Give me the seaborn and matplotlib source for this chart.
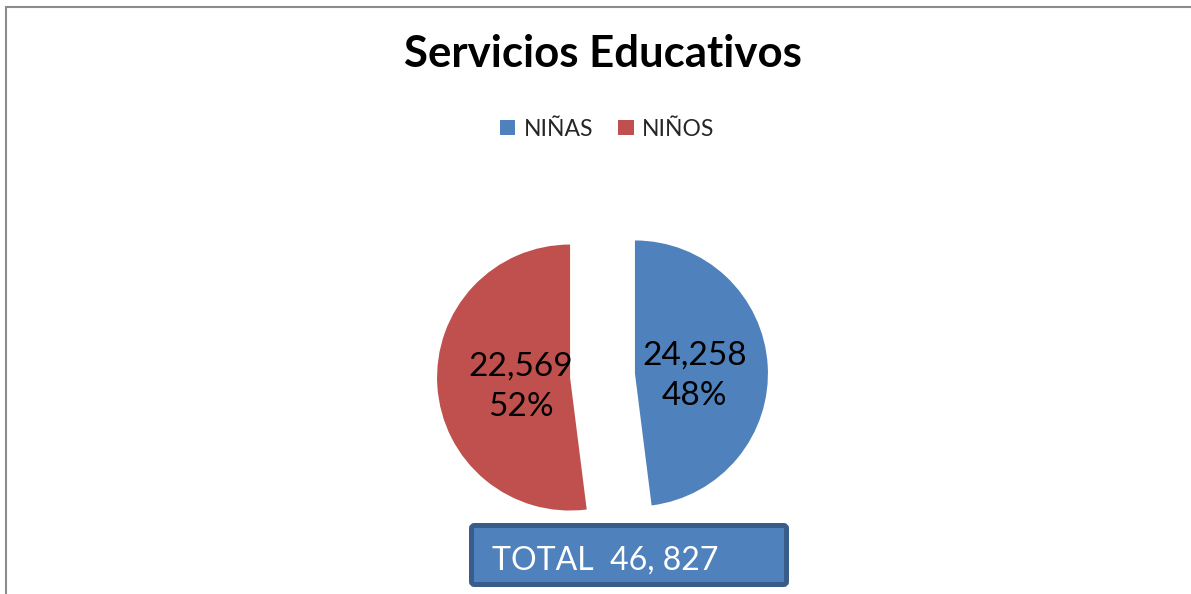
import numpy as np
import seaborn as sns
from matplotlib import pyplot as plt
from matplotlib.patches import FancyBboxPatch, Rectangle

# datos del grafico
categorias = ['NIÑAS', 'NIÑOS']
cantidades = ['24,258', '22,569']
porcentajes = [48, 52]
total = '46, 827'
colores = ['#4F81BD', '#C0504D']

sns.set_style('white')
plt.rcParams['font.family'] = ['Lato', 'DejaVu Sans']

W, H = 1191, 594
fig = plt.figure(figsize=(W / 100, H / 100), dpi=100)
ax = fig.add_axes([0, 0, 1, 1])
ax.set_xlim(0, W)
ax.set_ylim(0, H)
ax.set_aspect('equal')
ax.axis('off')

# marco gris del area del grafico
ax.add_patch(Rectangle((6, -20), W + 40, H - 6.5 + 20, fill=False,
                       edgecolor='#8c8c8c', linewidth=1.5))

etiquetas = iter([f'{c}\n{p}%' for c, p in zip(cantidades, porcentajes)])
wedges, _, textos = ax.pie(porcentajes, colors=colores, labels=None,
                           startangle=90, counterclock=False,
                           center=(602.5, H - 375.5), radius=133,
                           explode=[32.5, 32.5], pctdistance=0.45,
                           autopct=lambda p: next(etiquetas),
                           wedgeprops=dict(linewidth=0),
                           textprops=dict(fontsize=24, color='black', linespacing=1.45))
ax.set_xlim(0, W)
ax.set_ylim(0, H)

# acercar un poco la etiqueta roja al centro
dist = [0.45, 0.37]
for w, t, d in zip(wedges, textos, dist):
    ang = np.deg2rad((w.theta1 + w.theta2) / 2)
    cx, cy = w.center
    t.set_position((cx + d * w.r * np.cos(ang), cy + d * w.r * np.sin(ang) - 6))

fig.text(603 / W, (H - 67) / H, 'Servicios Educativos', ha='center', va='baseline',
         fontsize=31.5, fontweight='bold', color='black')

leg = fig.legend(wedges, categorias, loc='center', bbox_to_anchor=(607 / W, (H - 129) / H),
                 ncol=2, frameon=False, fontsize=16.5, handlelength=0.68, handleheight=0.68,
                 handletextpad=0.35, columnspacing=1.1)

# cuadro del total
ax.add_patch(FancyBboxPatch((471.5, H - 584.5), 315, 59,
                            boxstyle='round,pad=0,rounding_size=3',
                            facecolor='#4F81BD', edgecolor='#385D8A', linewidth=3.6))
ax.text(492, H - 570, f'TOTAL  {total}', ha='left', va='baseline',
        fontsize=23, color='white')

plt.savefig('out.png', dpi=100)
